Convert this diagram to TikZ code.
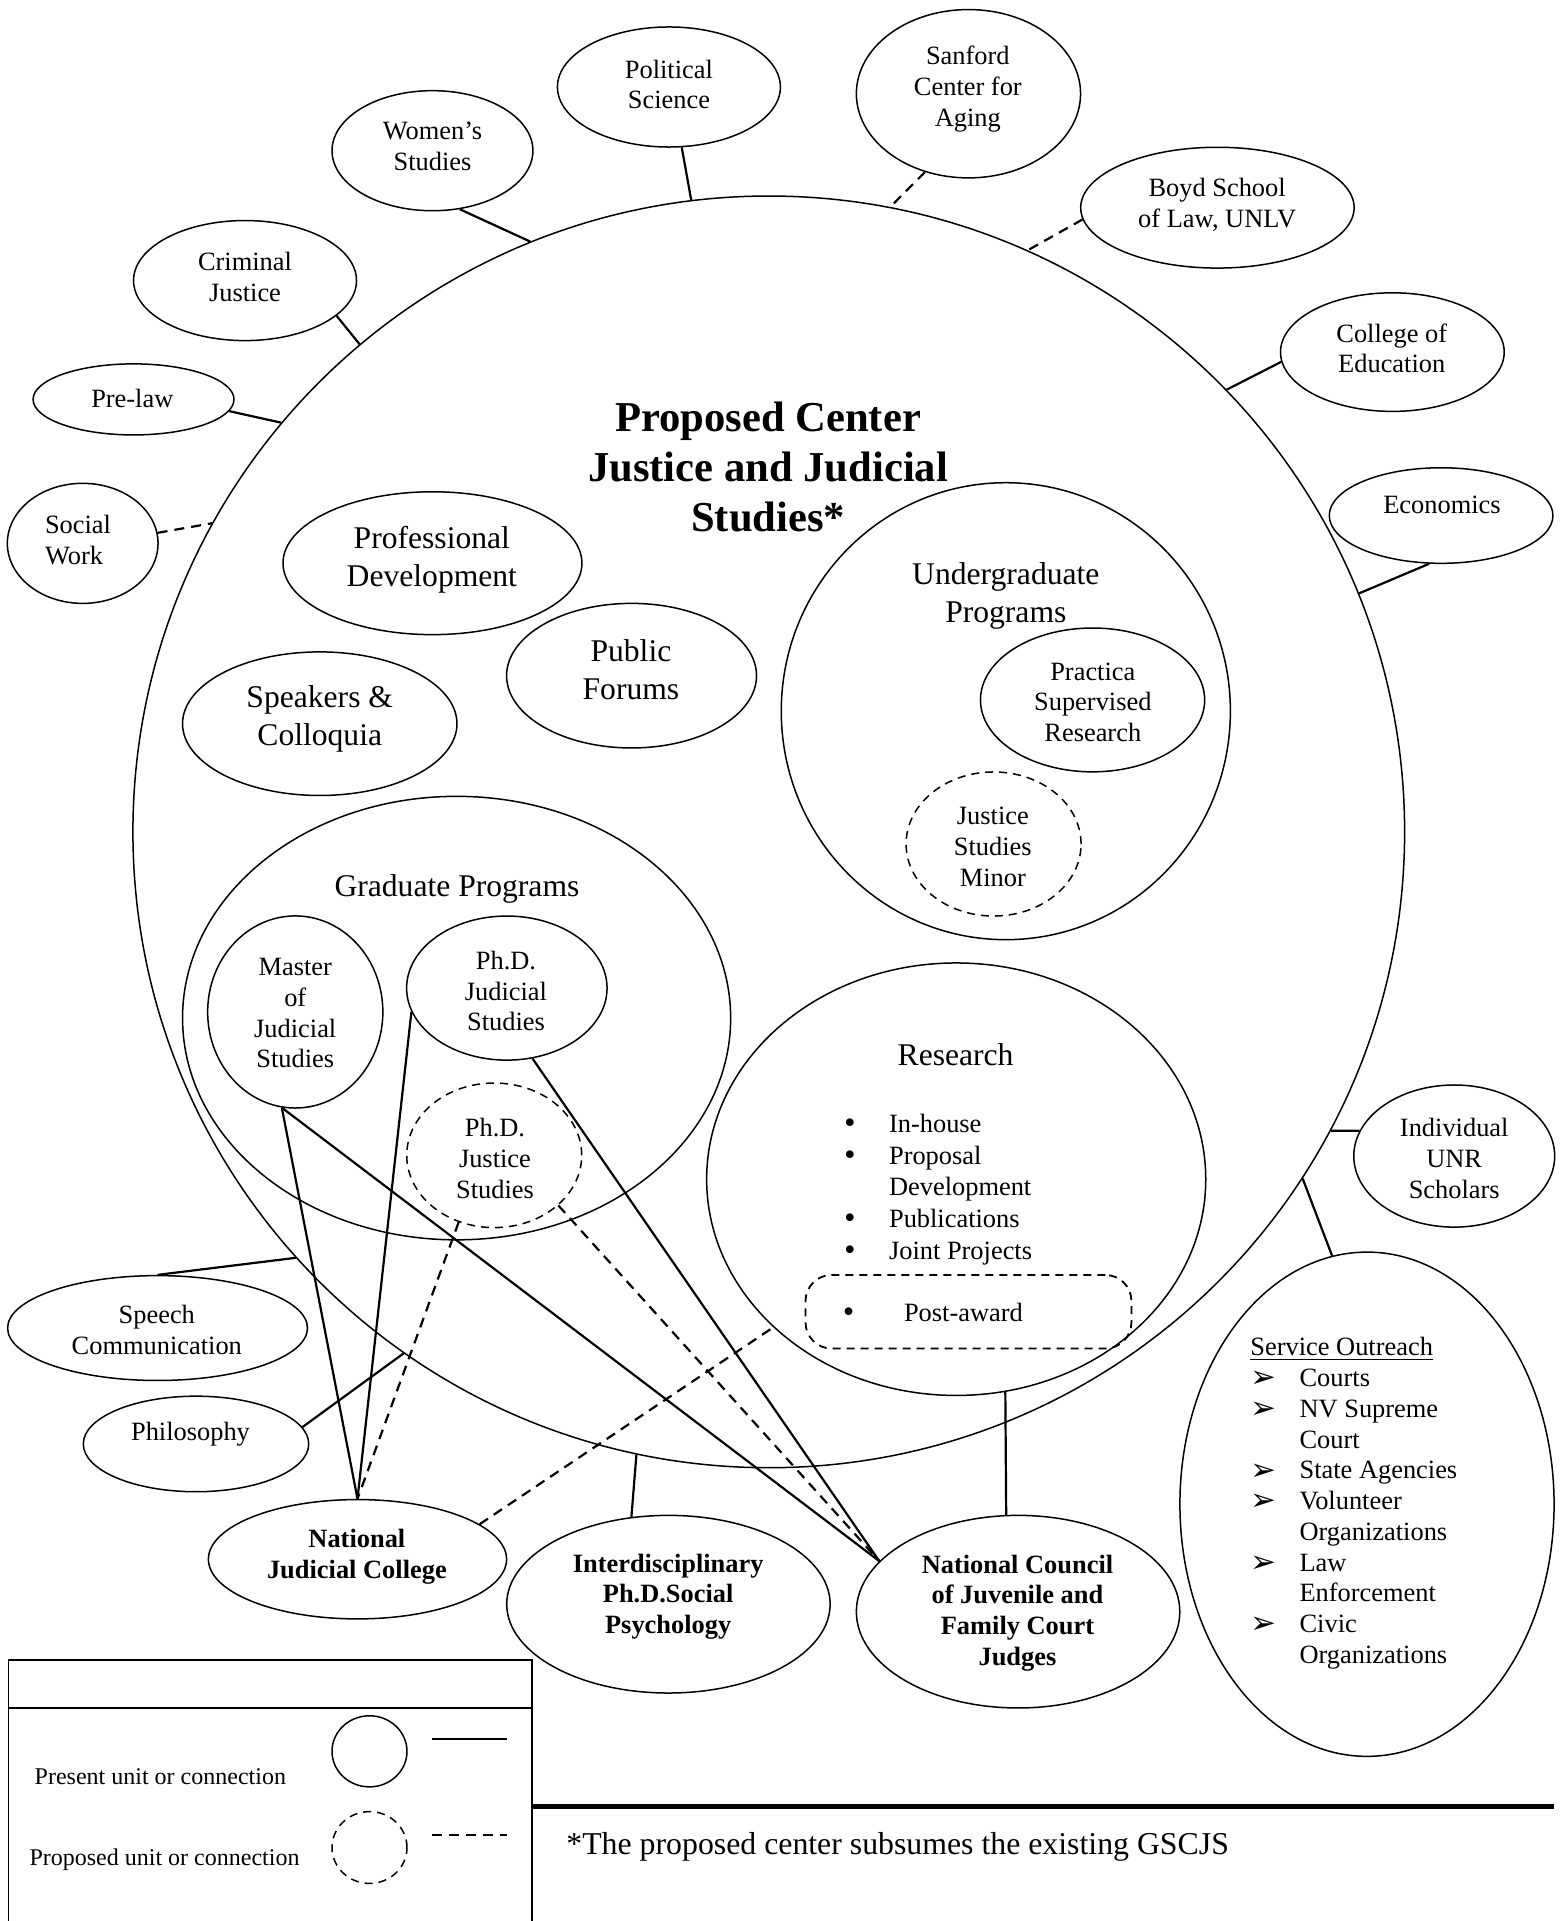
\documentclass[tikz,border=0pt]{standalone}
\usepackage{fontspec}
\setmainfont{Liberation Serif}
\newfontfamily\dingfont{DejaVu Sans}
\usetikzlibrary{shapes.geometric}
\newcommand\FSmall{\fontsize{13.2}{15.4}\selectfont}
\newcommand\FMed{\fontsize{15.8}{19}\selectfont}
\newcommand\FTitle{\fontsize{21.3}{24.9}\selectfont\bfseries}
\newcommand\FLeg{\fontsize{12}{14}\selectfont}
\newcommand\FNote{\fontsize{15.9}{19}\selectfont}
\newcommand\SOarr{\makebox[24.6pt][l]{\smash{\raisebox{-0.6pt}{\dingfont\fontsize{15.5}{12}\selectfont ➢}}}}
\newcommand\SOind{\hspace*{24.6pt}}
\newcommand\BigBul{{\dingfont\fontsize{13.2}{15}\selectfont •}}
\newcommand\RB{\makebox[23.5pt][l]{\BigBul}}
\newcommand\RI{\hspace*{23.5pt}}
\begin{document}
\begin{tikzpicture}[x=0.6125pt, y=-0.6125pt,
  ell/.style 2 args={ellipse, draw, line width=0.75pt, inner sep=0pt,
    minimum width=#1*1.225pt, minimum height=#2*1.225pt},
  prop/.style={dash pattern=on 4pt off 3pt},
  conn/.style={line width=1.1pt},
  pconn/.style={line width=1.1pt, dash pattern=on 5pt off 3.5pt},
  txt/.style={align=center, font=\FSmall, inner sep=0pt},
  btxt/.style={align=center, font=\FSmall\bfseries, inner sep=0pt},
  mtxt/.style={align=center, font=\FMed, inner sep=0pt},
  legtxt/.style={font=\FLeg, inner sep=0pt, anchor=west}]
\useasboundingbox (0,0) rectangle (1275,1568);

% ---------- main centre ----------
\node[ell={519}{519}] (bigc) at (627.5,679) {};
\node[font=\FTitle, align=center, inner sep=0pt] (title) at (627,381)
  {Proposed Center\\Justice and Judicial\\Studies*};

% ---------- outer units ----------
\node[ell={91}{49}] (polsci) at (546,71) {};
\node[txt] (polsci-t) at (546,69) {Political\\Science};
\node[ell={91.5}{68.7}] (sanford) at (790.5,76.5) {};
\node[txt] (sanford-t) at (790,72.5) {Sanford\\Center for\\Aging};
\node[ell={111.6}{49.3}] (boyd) at (993.7,169.5) {};
\node[txt] (boyd-t) at (993.5,167) {Boyd School\\of Law, UNLV};
\node[ell={91.3}{48.4}] (coe) at (1136.5,287.4) {};
\node[txt] (coe-t) at (1136,284.3) {College of\\Education};
\node[ell={91.3}{39}] (econ) at (1176.3,420.8) {};
\node[txt] (econ-t) at (1177,412.3) {Economics};
\node[ell={82}{49}] (women) at (353,123) {};
\node[txt] (women-t) at (353,119.5) {Women’s\\Studies};
\node[ell={91}{49}] (crim) at (200,229) {};
\node[txt] (crim-t) at (200,226) {Criminal\\Justice};
\node[ell={82}{29}] (prelaw) at (109,326) {};
\node[txt] (prelaw-t) at (108,325) {Pre-law};
\node[ell={61.5}{49}] (social) at (67.5,443.5) {};
\node[txt, align=left] (social-t) at (63.7,440.8) {Social\\Work};
\node[ell={82}{58}] (unr) at (1187,943.6) {};
\node[txt] (unr-t) at (1187,945.6) {Individual\\UNR\\Scholars};
\node[ell={152.7}{205.8}] (service) at (1115.8,1227.8) {};
\node[txt, align=left, anchor=west, font=\fontsize{13.2}{15.36}\selectfont] (service-t) at (1020.3,1227)
  {\underline{Service Outreach}\\
   \SOarr Courts\\
   \SOarr NV Supreme\\
   \SOind Court\\
   \SOarr State Agencies\\
   \SOarr Volunteer\\
   \SOind Organizations\\
   \SOarr Law\\
   \SOind Enforcement\\
   \SOarr Civic\\
   \SOind Organizations};
\node[ell={122.4}{42.8}] (speech) at (128.6,1084) {};
\node[txt] (speech-t) at (128,1085.7) {Speech\\Communication};
\node[ell={92}{39}] (philo) at (160,1178.6) {};
\node[txt] (philo-t) at (155.5,1170.5) {Philosophy};
\node[ell={121.7}{48.7}] (njc) at (291.8,1272.7) {};
\node[btxt] (njc-t) at (291.3,1270.8) {National\\Judicial College};
\node[ell={132}{72.5}] (interd) at (545.6,1309.4) {};
\node[btxt] (interd-t) at (545.4,1303.2) {Interdisciplinary\\Ph.D.Social\\Psychology};
\node[ell={132}{78.6}] (ncjfcj) at (831,1315.5) {};
\node[btxt] (ncjfcj-t) at (830.5,1316.7) {National Council\\of Juvenile and\\Family Court\\Judges};

% ---------- inner units ----------
\node[ell={122}{58.3}] (profdev) at (353,459.7) {};
\node[mtxt] (profdev-t) at (352.5,457) {Professional\\Development};
\node[ell={102}{59}] (public) at (515.5,551.5) {};
\node[mtxt] (public-t) at (515,546.8) {Public\\Forums};
\node[ell={112}{58.6}] (speakers) at (261,590.7) {};
\node[mtxt] (speakers-t) at (261,586.5) {Speakers \&\\Colloquia};

\node[ell={183.3}{186.5}] (under) at (821,580.5) {};
\node[mtxt] (under-t) at (821,486.7) {Undergraduate\\Programs};
\node[ell={91.5}{58.7}] (practica) at (891.8,571.3) {};
\node[txt] (practica-t) at (892,573.3) {Practica\\Supervised\\Research};
\node[ell={71.4}{58.8}, prop] (minor) at (811,688.9) {};
\node[txt] (minor-t) at (810.4,691.5) {Justice\\Studies\\Minor};

\node[ell={223.7}{181}] (grad) at (372.7,831) {};
\node[mtxt] (grad-t) at (373,725.6) {Graduate Programs};
\node[ell={71.5}{78.4}] (master) at (241,826) {};
\node[txt] (master-t) at (241,827) {Master\\of\\Judicial\\Studies};
\node[ell={81.8}{58.8}] (phdjud) at (413.7,806.5) {};
\node[txt] (phdjud-t) at (413,809) {Ph.D.\\Judicial\\Studies};
\node[ell={71.4}{59}, prop] (phdjus) at (403.4,943) {};
\node[txt] (phdjus-t) at (404,945.8) {Ph.D.\\Justice\\Studies};

\node[ell={203.7}{176.5}] (research) at (780.5,962.5) {};
\node[mtxt] (research-t) at (780,860.8) {Research};
\node[txt, align=left, anchor=west, font=\fontsize{13.2}{15.77}\selectfont] (reslist) at (687,971)
  {\RB In-house\\\RB Proposal\\\RI Development\\\RB Publications\\\RB Joint Projects};
\node[draw, prop, line width=0.9pt, rounded corners=13pt, inner sep=0pt,
  minimum width=266*0.6125pt, minimum height=60*0.6125pt] (post) at (790.5,1070.7) {};
\node[txt, anchor=west] (post-t) at (686,1071) {\makebox[31.6pt][l]{\BigBul}Post-award};

% ---------- connectors to the centre ----------
\draw[conn] (polsci.-78.5) -- (bigc.97.8);
\draw[conn] (women.-65.9) -- (bigc.112);
\draw[conn] (crim.-21.7) -- (bigc.130.1);
\draw[conn] (prelaw.-7.6) -- (bigc.140.3);
\draw[pconn] (social.8.8) -- (bigc.151.8);
\draw[pconn] (sanford.-119.2) -- (bigc.79.9);
\draw[pconn] (boyd.185.2) -- (bigc.66);
\draw[conn] (coe.185.9) -- (bigc.44.4);
\draw[conn] (econ.256.6) -- (bigc.22.6);
\draw[conn] (unr.165.9) -- (bigc.-28.1);
\draw[conn] (service.98.3) -- (bigc.-33);
\draw[conn] (speech.90) -- (bigc.222.8);
\draw[conn] (philo.9) -- (bigc.235.5);
\draw[conn] (interd.113) -- (bigc.-102.4);
\draw[conn] (research.-77) -- (ncjfcj.97.6);

% ---------- programme links ----------
\draw[conn] (master.262.7) -- (njc.90);
\draw[conn] (master.262.7) -- (ncjfcj.160.1);
\draw[conn] (phdjud.194) -- (njc.90);
\draw[conn] (phdjud.-70.3) -- (ncjfcj.160.1);
\draw[pconn] (phdjus.-38.2) -- (ncjfcj.160.1);
\draw[pconn] (phdjus.-118) -- (njc.90);
\draw[pconn] (njc.16.3) -- (research.219.7);

% ---------- legend ----------
\draw[line width=0.8pt] (7,1568) -- (7,1355) -- (434.3,1355) -- (434.3,1568);
\draw[line width=0.8pt] (7,1394) -- (434.3,1394);
\node[legtxt] (leg1-t) at (28,1450) {Present unit or connection};
\node[legtxt] (leg2-t) at (23.8,1518) {Proposed unit or connection};
\node[ell={30.6}{29}] (leg1-c) at (301.6,1429.5) {};
\node[ell={30.6}{29.3}, prop] (leg2-c) at (301.6,1508) {};
\coordinate (leg1-a) at (353,1419.2);
\coordinate (leg1-b) at (413.5,1419.2);
\coordinate (leg2-a) at (353,1497.7);
\coordinate (leg2-b) at (413.5,1497.7);
\draw[conn] (leg1-a) -- (leg1-b);
\draw[pconn] (leg2-a) -- (leg2-b);

% ---------- footnote ----------
\coordinate (rule-a) at (434.3,1474.4);
\coordinate (rule-b) at (1268.3,1474.4);
\draw[line width=2.6pt] (rule-a) -- (rule-b);
\node[font=\FNote, anchor=west, inner sep=0pt] (note) at (462,1507.6)
  {*The proposed center subsumes the existing GSCJS};
\end{tikzpicture}
\end{document}
